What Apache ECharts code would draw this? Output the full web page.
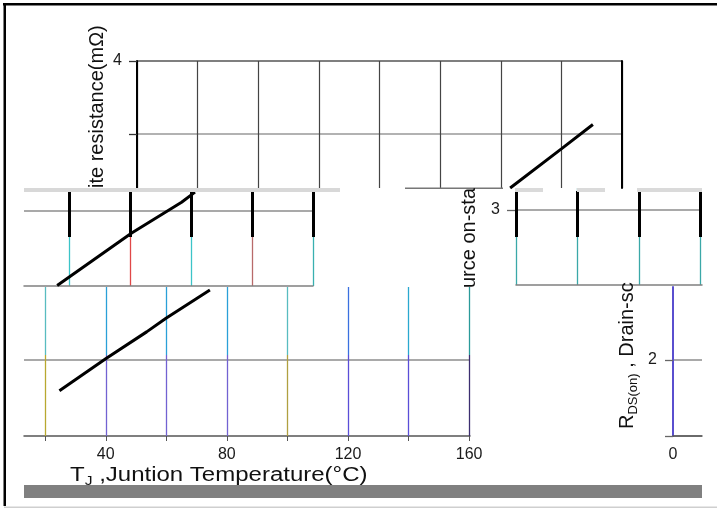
<!DOCTYPE html>
<html>
<head>
<meta charset="utf-8">
<script src="https://cdn.jsdelivr.net/npm/echarts@6/dist/echarts.min.js"></script>
<style>
html, body { margin: 0; padding: 0; background: #fff; }
#main { width: 717px; height: 508px; }
</style>
</head>
<body>
<div id="main"></div>
<script>
// tick positions (°C) of the vertical grid lines in each piece
var topTempTicks = [0, 20, 40, 60, 80, 100, 120, 140, 160];
var midLeftTicks = [20, 40, 60, 80, 100];
var midRightTicks = [80, 100, 120, 140];
var lowTempTicks = [20, 40, 60, 80, 100, 120, 140, 160];
var lowTempLabels = [40, 80, 120, 160];

// resistance ticks (mΩ)
var topResTicks = [3.5, 4];
var topResLabels = [4];
var midResTicks = [3];
var lowResTicks = [2];
var cornerResTicks = [0, 2];
var cornerResLabels = [2];
var cornerTempLabels = [0];

// RDS(on) curve pieces [Tj, mΩ]
var curveTop = [[123.1, 3.13], [140.1, 3.40], [150.4, 3.565]];
var curveMid = [[15.9, 2.49], [40.4, 2.85], [56.8, 3.06], [61.2, 3.13]];
var curveLow = [[24.7, 1.19], [40.1, 2.04], [53.5, 2.74], [59.9, 3.10], [74.4, 3.84]];

var FONT = '"Liberation Sans", Arial, sans-serif';

function hidden(gridIndex) {
  return { gridIndex: gridIndex, type: 'value', show: false };
}
function lines(gridIndex, min, max, ticks, color, width, z) {
  return {
    gridIndex: gridIndex, type: 'value', min: min, max: max, z: z || 0,
    axisLine: { show: false, onZero: false },
    axisTick: { show: false, customValues: ticks },
    axisLabel: { show: false },
    splitLine: { show: true, lineStyle: { color: color, width: width } }
  };
}

var chart = echarts.init(document.getElementById('main'));
chart.setOption({
  animation: false,
  grid: [
    { left: 137, top: 61, width: 485, height: 127, outerBoundsMode: 'none' },  // top piece
    { left: 24, top: 188, width: 289, height: 98, outerBoundsMode: 'none' },   // middle left
    { left: 24, top: 191, width: 289, height: 46, outerBoundsMode: 'none' },   // middle left bars
    { left: 516, top: 188, width: 186, height: 97, outerBoundsMode: 'none' },  // middle right
    { left: 516, top: 191, width: 186, height: 46, outerBoundsMode: 'none' },  // middle right bars
    { left: 24, top: 287, width: 446, height: 149, outerBoundsMode: 'none' },  // bottom piece
    { left: 24, top: 287, width: 446, height: 68, outerBoundsMode: 'none' },   // bottom upper colours
    { left: 24, top: 355, width: 446, height: 81, outerBoundsMode: 'none' },   // bottom lower colours
    { left: 673, top: 287, width: 29, height: 149, outerBoundsMode: 'none' }   // bottom right corner
  ],
  xAxis: [
    {
      gridIndex: 0, type: 'value', min: 0, max: 160, interval: 20,
      axisLine: { show: false, onZero: false }, axisTick: { show: false }, axisLabel: { show: false },
      splitLine: { show: true, lineStyle: { color: ['#000', '#444', '#444', '#444', '#444', '#444', '#444', '#444', '#000'], width: 1.2 } }
    },
    {
      gridIndex: 1, type: 'value', min: 5, max: 100,
      axisLine: { show: true, onZero: false, lineStyle: { color: '#808080', width: 1.5 } },
      axisTick: { show: false, customValues: midLeftTicks }, axisLabel: { show: false },
      splitLine: { show: true, lineStyle: { color: ['#3cc4c8', '#e04848', '#3cc4c8', '#b86a6a', '#38b0b0'], width: 1.3 } }
    },
    lines(2, 5, 100, midLeftTicks, '#000', 3, 2),
    {
      gridIndex: 3, type: 'value', min: 80, max: 140.6,
      axisLine: { show: true, onZero: false, lineStyle: { color: '#808080', width: 1.5 } },
      axisTick: { show: false, customValues: midRightTicks }, axisLabel: { show: false },
      splitLine: { show: true, lineStyle: { color: '#3aa8a8', width: 1.3 } }
    },
    lines(4, 80, 140.6, midRightTicks, '#000', 3, 2),
    {
      gridIndex: 5, type: 'value', min: 13, max: 160.3,
      axisLine: { show: true, onZero: false, lineStyle: { color: '#555', width: 1.5 } },
      axisTick: { show: true, customValues: lowTempTicks, length: 5, lineStyle: { color: '#555' } },
      axisLabel: { customValues: lowTempLabels, fontSize: 16, fontFamily: FONT, color: '#1a1a1a', margin: 11 },
      splitLine: { show: false }
    },
    lines(6, 13, 160.3, lowTempTicks, ['#58bcc0', '#2aa0d8', '#2aa0d8', '#2aa0d8', '#58bcc0', '#3a70e0', '#2aa8d0', '#2a9a9a'], 1.3, 1),
    lines(7, 13, 160.3, lowTempTicks, ['#b8a830', '#7262d2', '#7262d2', '#7262d2', '#b0a040', '#5a4ed8', '#5a4ed8', '#3c2e70'], 1.3, 1),
    {
      gridIndex: 8, type: 'value', min: 0, max: 5,
      axisLine: { show: true, onZero: false, lineStyle: { color: '#555', width: 1.5 } },
      axisTick: { show: false },
      axisLabel: { customValues: cornerTempLabels, fontSize: 16, fontFamily: FONT, color: '#1a1a1a', margin: 11 },
      splitLine: { show: false }
    }
  ],
  yAxis: [
    {
      gridIndex: 0, type: 'value', min: 3.13, max: 4,
      axisLine: { show: true, onZero: false, lineStyle: { color: '#000', width: 2 } },
      axisTick: { show: true, customValues: topResTicks, length: 8, lineStyle: { color: '#333', width: 1.3 } },
      axisLabel: { customValues: topResLabels, fontSize: 16, fontFamily: FONT, color: '#1a1a1a', margin: 15 },
      splitLine: { show: true, lineStyle: { color: ['#999', '#555'], width: 1.5 } }
    },
    {
      gridIndex: 0, type: 'value', position: 'right', min: 3.13, max: 4,
      axisLine: { show: true, onZero: false, lineStyle: { color: '#000', width: 2 } },
      axisTick: { show: false }, axisLabel: { show: false }, splitLine: { show: false }
    },
    lines(1, 2.486, 3.158, midResTicks, '#8c8c8c', 1.5, 0),
    hidden(2),
    {
      gridIndex: 3, type: 'value', min: 2.486, max: 3.151,
      axisLine: { show: false, onZero: false },
      axisTick: { show: true, customValues: midResTicks, length: 9, lineStyle: { color: '#666', width: 1.3 } },
      axisLabel: { customValues: midResTicks, fontSize: 16, fontFamily: FONT, color: '#1a1a1a', margin: 16 },
      splitLine: { show: true, lineStyle: { color: '#8c8c8c', width: 1.5 } }
    },
    hidden(4),
    lines(5, 0, 3.921, lowResTicks, '#8c8c8c', 1.5, 0),
    hidden(6),
    hidden(7),
    {
      gridIndex: 8, type: 'value', min: 0, max: 3.921,
      axisLine: { show: true, onZero: false, lineStyle: { color: '#5a4fcf', width: 2 } },
      axisTick: { show: true, customValues: cornerResTicks, length: 8, lineStyle: { color: '#666', width: 1.3 } },
      axisLabel: { customValues: cornerResLabels, fontSize: 16, fontFamily: FONT, color: '#1a1a1a', margin: 16 },
      splitLine: { show: true, lineStyle: { color: '#8c8c8c', width: 1.5 } }
    }
  ],
  series: [
    { type: 'line', xAxisIndex: 0, yAxisIndex: 0, data: curveTop, symbol: 'none', z: 5, lineStyle: { color: '#000', width: 3 } },
    { type: 'line', xAxisIndex: 1, yAxisIndex: 2, data: curveMid, symbol: 'none', z: 5, lineStyle: { color: '#000', width: 3 } },
    { type: 'line', xAxisIndex: 5, yAxisIndex: 6, data: curveLow, symbol: 'none', z: 5, lineStyle: { color: '#000', width: 3 } }
  ],
  graphic: [
    // frame
    { type: 'rect', z: 100, shape: { x: 3, y: 3, width: 714, height: 2.5 }, style: { fill: '#000' } },
    { type: 'rect', z: 100, shape: { x: 3.5, y: 3, width: 2.5, height: 503 }, style: { fill: '#000' } },
    { type: 'rect', z: 100, shape: { x: 4, y: 506.5, width: 713, height: 1.5 }, style: { fill: '#cfcfcf' } },
    // light seams between the pieces
    { type: 'rect', z: 100, shape: { x: 24, y: 188, width: 316, height: 4 }, style: { fill: '#d8d8d8' } },
    { type: 'rect', z: 100, shape: { x: 515, y: 188, width: 28, height: 4 }, style: { fill: '#dadada' } },
    { type: 'rect', z: 100, shape: { x: 577, y: 188, width: 28, height: 4 }, style: { fill: '#dadada' } },
    { type: 'rect', z: 100, shape: { x: 637, y: 188, width: 65, height: 4 }, style: { fill: '#dadada' } },
    { type: 'rect', z: 100, shape: { x: 405, y: 187.5, width: 98, height: 1.5 }, style: { fill: '#777' } },
    // axis titles
    {
      type: 'text', z: 100, x: 97, y: 188, rotation: Math.PI / 2,
      style: { text: 'ite resistance(mΩ)', fontSize: 20, fontFamily: FONT, fill: '#111', align: 'left', verticalAlign: 'middle' }
    },
    {
      type: 'text', z: 100, x: 469, y: 288, rotation: Math.PI / 2,
      style: { text: 'urce on-sta', fontSize: 20, fontFamily: FONT, fill: '#111', align: 'left', verticalAlign: 'middle' }
    },
    {
      type: 'text', z: 100, x: 627, y: 429, rotation: Math.PI / 2,
      style: {
        text: '{a|R}{b|DS(on)}{a| , Drain-sc}', align: 'left', verticalAlign: 'middle', fill: '#111',
        rich: {
          a: { fontSize: 20, fontFamily: FONT, lineHeight: 26, fill: '#111' },
          b: { fontSize: 13, fontFamily: FONT, lineHeight: 14, verticalAlign: 'bottom', fill: '#111' }
        }
      }
    },
    {
      type: 'text', z: 100, x: 70, y: 475, scaleX: 1.2,
      style: {
        text: '{a|T}{b|J}{a| ,Juntion Temperature(°C)}', align: 'left', verticalAlign: 'middle', fill: '#111',
        rich: {
          a: { fontSize: 20, fontFamily: FONT, lineHeight: 26, fill: '#111' },
          b: { fontSize: 13, fontFamily: FONT, lineHeight: 14, verticalAlign: 'bottom', fill: '#111' }
        }
      }
    },
    // grey strip at the bottom
    { type: 'rect', z: 110, shape: { x: 24, y: 485, width: 678, height: 13 }, style: { fill: '#808080' } }
  ]
});
</script>
</body>
</html>
